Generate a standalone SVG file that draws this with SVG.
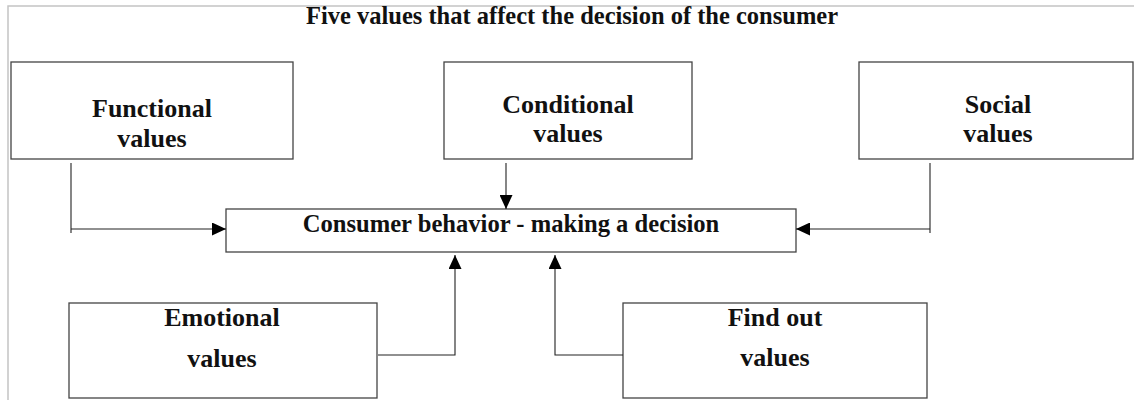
<svg xmlns="http://www.w3.org/2000/svg" width="1134" height="400" viewBox="0 0 1134 400">
<defs>
<style>
.frame{fill:none;stroke:#c4c4c4;stroke-width:1.5}
.box{fill:#fff;stroke:#444;stroke-width:1.3}
.lbl{font-family:"Liberation Serif","Times New Roman",serif;font-weight:bold;font-size:26px;fill:#111;text-anchor:middle}
.title{font-family:"Liberation Serif","Times New Roman",serif;font-weight:bold;font-size:24.5px;fill:#111;text-anchor:middle}
.conn{fill:none;stroke:#222;stroke-width:1.1}
</style>
<marker id="arr" viewBox="0 0 14 13" refX="14" refY="6.5" markerWidth="14" markerHeight="13" markerUnits="userSpaceOnUse" orient="auto">
<path d="M0,0 L14,6.5 L0,13 Z" fill="#000"/>
</marker>
</defs>
<rect width="1134" height="400" fill="#fff"/>
<path class="frame" d="M8,400 V6 H1134"/>
<text class="title" x="572" y="24">Five values that affect the decision of the consumer</text>

<g id="functional">
<rect class="box" x="11" y="62" width="282" height="97"/>
<text class="lbl" x="152" y="117">Functional</text>
<text class="lbl" x="152" y="147">values</text>
</g>
<g id="conditional">
<rect class="box" x="444" y="62" width="248" height="97"/>
<text class="lbl" x="568" y="113">Conditional</text>
<text class="lbl" x="568" y="142">values</text>
</g>
<g id="social">
<rect class="box" x="859" y="62" width="274" height="97"/>
<text class="lbl" x="998" y="113">Social</text>
<text class="lbl" x="998" y="142">values</text>
</g>
<g id="decision">
<rect class="box" x="226" y="209" width="570" height="43"/>
<text class="lbl" x="511" y="232" style="font-size:24.6px">Consumer behavior - making a decision</text>
</g>
<g id="emotional">
<rect class="box" x="69" y="303" width="308" height="95"/>
<text class="lbl" x="222" y="326">Emotional</text>
<text class="lbl" x="222" y="367">values</text>
</g>
<g id="findout">
<rect class="box" x="623" y="303" width="304" height="95"/>
<text class="lbl" x="775" y="326">Find out</text>
<text class="lbl" x="775" y="366">values</text>
</g>

<g id="connectors">
<path class="conn" d="M71,163 V233"/>
<path class="conn" d="M71,229 H226" marker-end="url(#arr)"/>
<path class="conn" d="M506,163 V209" marker-end="url(#arr)"/>
<path class="conn" d="M930,163 V233"/>
<path class="conn" d="M930,229 H796" marker-end="url(#arr)"/>
<path class="conn" d="M378,355 H455 V255" marker-end="url(#arr)"/>
<path class="conn" d="M623,355 H555 V255" marker-end="url(#arr)"/>
</g>
</svg>
